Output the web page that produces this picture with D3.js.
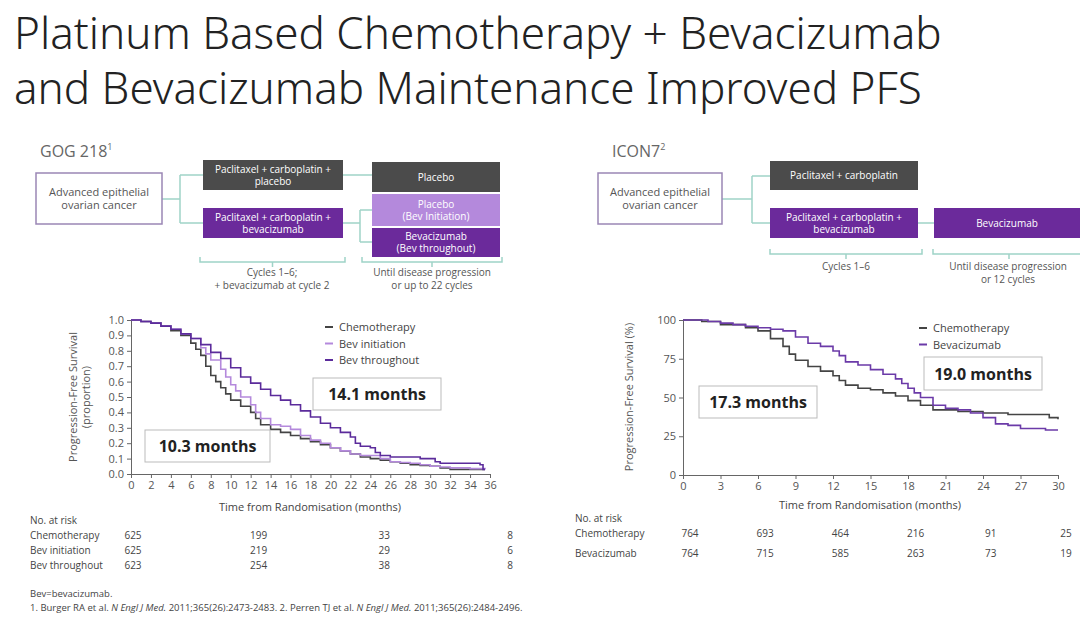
<!DOCTYPE html>
<html><head><meta charset="utf-8">
<script src="https://cdn.jsdelivr.net/npm/d3@7"></script>
<style>
body{margin:0;background:#fff;}
text{font-family:"Open Sans","Noto Sans",sans-serif;}
.title{font-family:"Noto Sans",sans-serif;font-weight:300;font-size:44px;fill:#222;}
.ax text{font-size:11px;fill:#555;}
.ax path,.ax line{stroke:#666;}
</style></head>
<body><svg id="c" width="1080" height="618"></svg>
<script>
// GOG 218 curves (month, proportion)
var gogChemo = [[0,1],[1,0.99],[2,0.98],[3,0.96],[4,0.93],[5,0.9],[6,0.85],[6.5,0.81],[7,0.77],[7.5,0.7],[8,0.64],[8.5,0.6],[9,0.56],[9.5,0.52],[10,0.48],[11,0.44],[12,0.4],[12.5,0.36],[13,0.32],[14,0.29],[15,0.27],[16,0.25],[17,0.23],[18,0.21],[19,0.19],[20,0.17],[21,0.15],[22,0.13],[23,0.11],[24,0.1],[25,0.09],[26,0.08],[27,0.07],[28,0.06],[29,0.055],[30,0.05],[31,0.04],[32,0.03],[34,0.03],[35.5,0.03]];
var gogInit = [[0,1],[1,0.99],[2,0.98],[3,0.96],[4,0.94],[5,0.91],[6,0.88],[7,0.82],[7.5,0.78],[8,0.74],[9,0.68],[9.5,0.63],[10,0.58],[10.5,0.54],[11,0.5],[12,0.45],[12.5,0.4],[13,0.36],[14,0.32],[15,0.31],[16,0.29],[17,0.25],[18,0.22],[19,0.2],[20,0.17],[21,0.15],[22,0.13],[23,0.12],[24,0.12],[25,0.1],[26,0.08],[27,0.075],[28,0.07],[29,0.06],[30,0.05],[31,0.045],[32,0.04],[34,0.035],[35.5,0.03]];
var gogThru = [[0,1],[1,0.99],[2,0.98],[3,0.96],[4,0.94],[5,0.91],[6,0.88],[7,0.84],[8,0.79],[9,0.75],[10,0.69],[11,0.63],[12,0.59],[13,0.55],[14,0.51],[15,0.48],[16,0.45],[17,0.41],[18,0.37],[19,0.33],[20,0.3],[21,0.27],[22,0.24],[22.5,0.2],[23,0.18],[24,0.17],[24.5,0.14],[25,0.12],[26,0.11],[28,0.11],[29,0.1],[30,0.1],[30.5,0.08],[31,0.07],[34,0.07],[35,0.06],[35.3,0.03],[35.5,0.03]];
// ICON7 curves (month, %)
var iconChemo = [[0,100],[1.5,99],[3,97],[5,95],[6,93],[7,88],[8,83],[8.5,78],[9,74],[10,70],[11,67],[12,64],[12.5,61],[13,58],[14,56],[15,55],[16,53],[17,51],[18,48],[19,45],[20,42],[22,41],[24,40],[26,39],[28,39],[29.3,37],[30,36]];
var iconBev = [[0,100],[2,99],[3,98],[4,97],[5,96],[6,95],[7,94],[8,93],[9,89],[10,85],[11,83],[12,80],[12.5,77],[13,73],[14,71],[15,68],[16,65],[17,62],[17.5,59],[18,56],[18.5,53],[19,50],[20,45],[21,43],[22,42],[23,40],[24,37],[25,33],[26,32],[27,30],[28,30],[29,29],[30,29]];
var gogRiskMonths = [0,12,24,36];
var gogRisk = [["Chemotherapy",[625,199,33,8]],["Bev initiation",[625,219,29,6]],["Bev throughout",[623,254,38,8]]];
var iconRisk = [["Chemotherapy",[764,693,464,216,91,25]],["Bevacizumab",[764,715,585,263,73,19]]];
var gogTicks = d3.range(0,37,2);
var iconTicks = d3.range(0,31,3);

var DARK="#4b4b4b", PUR="#6b2a9b", LPUR="#b489dc", TEAL="#9fd3c7";
var svg = d3.select("#c");

svg.append("text").attr("class","title").attr("x",14).attr("y",49).text("Platinum Based Chemotherapy + Bevacizumab");
svg.append("text").attr("class","title").attr("x",14).attr("y",104).text("and Bevacizumab Maintenance Improved PFS");

function box(x,y,w,h,fill,lines,col,stroke,fs){
  fs=fs||10;
  svg.append("rect").attr("x",x).attr("y",y).attr("width",w).attr("height",h)
    .attr("fill",fill).attr("stroke",stroke||"none").attr("stroke-width",1.5);
  var n=lines.length;
  lines.forEach(function(t,i){
    svg.append("text").attr("x",x+w/2).attr("y",y+h/2+(i-(n-1)/2)*(fs+2)+fs*0.35)
      .attr("text-anchor","middle").attr("font-size",fs).attr("fill",col).text(t);
  });
}
function line(pts){svg.append("path").attr("d",d3.line()(pts)).attr("fill","none").attr("stroke",TEAL).attr("stroke-width",1.5);}
function bracket(x1,x2,y){line([[x1,y-5],[x1,y],[x2,y],[x2,y-5]]);line([[(x1+x2)/2,y],[(x1+x2)/2,y+5]]);}
function txt(x,y,s,size,col,anchor){return svg.append("text").attr("x",x).attr("y",y).attr("font-size",size).attr("fill",col||"#555").attr("text-anchor",anchor||"start").text(s);}

// GOG 218 design
var g1=txt(40,157,"GOG 218",16,"#666");g1.append("tspan").attr("dy",-7).attr("font-size",9).text("1");
line([[162,199],[180,199]]);line([[180,175],[180,223]]);line([[180,175],[203,175]]);line([[180,223],[203,223]]);
line([[343,175],[372,175]]);line([[343,223],[360,223]]);line([[360,210],[360,242]]);line([[360,210],[372,210]]);line([[360,242],[372,242]]);
box(36,173,126,51,"#fff",["Advanced epithelial","ovarian cancer"],"#555","#9a86b5",11);
box(203,160,140,30,DARK,["Paclitaxel + carboplatin +","placebo"],"#fff");
box(203,208,140,30,PUR,["Paclitaxel + carboplatin +","bevacizumab"],"#fff");
box(372,162,128,30,DARK,["Placebo"],"#fff");
box(372,194,128,32,LPUR,["Placebo","(Bev Initiation)"],"#fff");
box(372,228,128,29,PUR,["Bevacizumab","(Bev throughout)"],"#fff");
bracket(200,345,262);bracket(362,502,262);
txt(272,276,"Cycles 1–6;",10,"#555","middle");txt(272,289,"+ bevacizumab at cycle 2",10,"#555","middle");
txt(432,276,"Until disease progression",10,"#555","middle");txt(432,289,"or up to 22 cycles",10,"#555","middle");

// ICON7 design
var g2=txt(612,157,"ICON7",16,"#666");g2.append("tspan").attr("dy",-7).attr("font-size",9).text("2");
line([[722,199],[752,199]]);line([[752,176],[752,223]]);line([[752,176],[770,176]]);line([[752,223],[770,223]]);line([[918,223],[934,223]]);
box(598,173,124,51,"#fff",["Advanced epithelial","ovarian cancer"],"#555","#9a86b5",11);
box(770,161,148,29,DARK,["Paclitaxel + carboplatin"],"#fff");
box(770,208,148,30,PUR,["Paclitaxel + carboplatin +","bevacizumab"],"#fff");
box(934,208,146,30,PUR,["Bevacizumab"],"#fff");
bracket(770,922,254);bracket(933,1085,254);
txt(846,270,"Cycles 1–6",10,"#555","middle");txt(1008,270,"Until disease progression",10,"#555","middle");txt(1008,283,"or 12 cycles",10,"#555","middle");

function km(x,y,data,col){
  svg.append("path").datum(data).attr("fill","none").attr("stroke",col).attr("stroke-width",1.6)
    .attr("d",d3.line().x(function(d){return x(d[0]);}).y(function(d){return y(d[1]);}).curve(d3.curveStepAfter));
}
function labelBox(x,y,w,h,s){
  svg.append("rect").attr("x",x).attr("y",y).attr("width",w).attr("height",h).attr("fill","#fff").attr("stroke","#bbb");
  svg.append("text").attr("x",x+w/2).attr("y",y+h/2+6).attr("text-anchor","middle")
    .attr("font-weight",700).attr("font-size",16).attr("fill","#222").text(s);
}
function legend(x,y,items){
  items.forEach(function(it,i){
    svg.append("line").attr("x1",x).attr("x2",x+8).attr("y1",y+i*16.5).attr("y2",y+i*16.5).attr("stroke",it[1]).attr("stroke-width",2);
    txt(x+14,y+i*16.5+4,it[0],11,"#444");
  });
}

// GOG 218 KM
var x1=d3.scaleLinear().domain([0,36]).range([131,490]);
var y1=d3.scaleLinear().domain([0,1]).range([474,320]);
svg.append("g").attr("class","ax").attr("transform","translate(0,474)").call(d3.axisBottom(x1).tickValues(gogTicks).tickSize(4).tickSizeOuter(0));
svg.append("g").attr("class","ax").attr("transform","translate(131,0)").call(d3.axisLeft(y1).ticks(10).tickFormat(d3.format(".1f")).tickSize(4).tickSizeOuter(0));
km(x1,y1,gogChemo,"#444");km(x1,y1,gogInit,LPUR);km(x1,y1,gogThru,"#5b2b9b");
legend(325,327,[["Chemotherapy","#444"],["Bev initiation",LPUR],["Bev throughout","#5b2b9b"]]);
labelBox(313,378,128,32,"14.1 months");labelBox(145,430,125,32,"10.3 months");
svg.append("text").attr("transform","translate(77,397) rotate(-90)").attr("text-anchor","middle").attr("font-size",11).attr("fill","#555").text("Progression-Free Survival");
svg.append("text").attr("transform","translate(90,397) rotate(-90)").attr("text-anchor","middle").attr("font-size",11).attr("fill","#555").text("(proportion)");
txt(310,511,"Time from Randomisation (months)",11,"#444","middle");

// ICON7 KM
var x2=d3.scaleLinear().domain([0,30]).range([683,1058]);
var y2=d3.scaleLinear().domain([0,100]).range([475,320]);
svg.append("g").attr("class","ax").attr("transform","translate(0,475)").call(d3.axisBottom(x2).tickValues(iconTicks).tickSize(4).tickSizeOuter(0));
svg.append("g").attr("class","ax").attr("transform","translate(683,0)").call(d3.axisLeft(y2).tickValues([0,25,50,75,100]).tickSize(4).tickSizeOuter(0));
km(x2,y2,iconChemo,"#444");km(x2,y2,iconBev,"#6b3aa8");
legend(919,328,[["Chemotherapy","#444"],["Bevacizumab","#6b3aa8"]]);
labelBox(924,357,118,33,"19.0 months");labelBox(699,386,118,32,"17.3 months");
svg.append("text").attr("transform","translate(633,397) rotate(-90)").attr("text-anchor","middle").attr("font-size",11).attr("fill","#555").text("Progression-Free Survival (%)");
txt(870,509,"Time from Randomisation (months)",11,"#444","middle");

// risk tables
var r1=d3.scalePoint().domain(gogRiskMonths).range([133,510]);
txt(30,524,"No. at risk",10,"#444");
gogRisk.forEach(function(r,i){
  var yy=539+i*15; txt(30,yy,r[0],10,"#444");
  r[1].forEach(function(v,j){txt(r1(gogRiskMonths[j]),yy,v,10,"#444","middle");});
});
var r2=d3.scaleLinear().domain([0,5]).range([690,1066]);
txt(575,522,"No. at risk",10,"#444");
iconRisk.forEach(function(r,i){
  var yy=537+i*20; txt(575,yy,r[0],10,"#444");
  r[1].forEach(function(v,j){txt(r2(j),yy,v,10,"#444","middle");});
});

// footnotes
txt(30,597,"Bev=bevacizumab.",9.5,"#444");
var f=txt(30,611,"1. Burger RA et al. ",9.5,"#444");
f.append("tspan").attr("font-style","italic").text("N Engl J Med.");
f.append("tspan").text(" 2011;365(26):2473-2483. 2. Perren TJ et al. ");
f.append("tspan").attr("font-style","italic").text("N Engl J Med.");
f.append("tspan").text(" 2011;365(26):2484-2496.");
</script></body></html>
